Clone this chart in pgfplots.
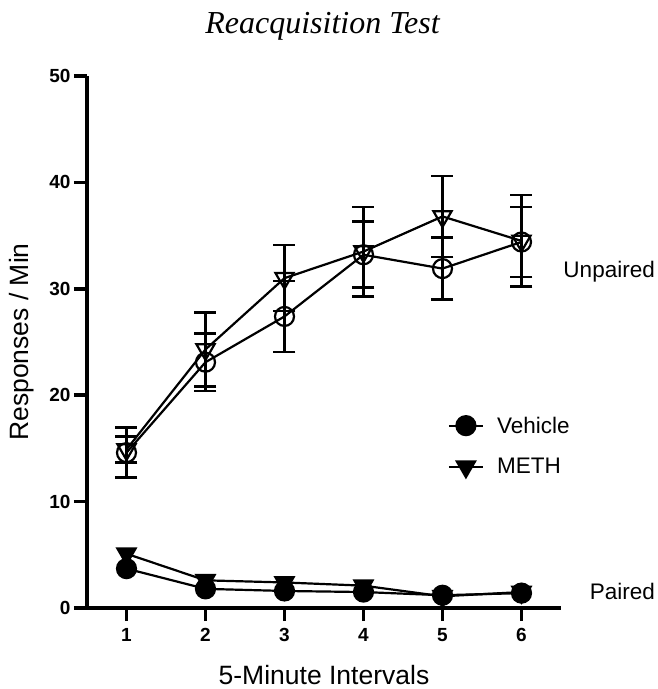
\documentclass[border=0pt]{standalone}
\usepackage{fontspec}
\setmainfont{Liberation Sans}
\newfontfamily\serif{Liberation Serif}
\usepackage{pgfplots}
\usepackage{pgfplotstable}
\pgfplotsset{compat=1.18}

\pgfplotstableread{
x y e
1 14.6 2.35
2 23.1 2.7
3 27.4 3.35
4 33.2 3.1
5 31.9 2.9
6 34.4 3.3
}\unpVeh
\pgfplotstableread{
x y e
1 14.9 1.2
2 24.3 3.5
3 31.0 3.1
4 33.5 4.2
5 36.8 3.8
6 34.5 4.3
}\unpMeth
\pgfplotstableread{
x y
1 3.7
2 1.8
3 1.6
4 1.5
5 1.2
6 1.4
}\parVeh
\pgfplotstableread{
x y
1 5.1
2 2.6
3 2.4
4 2.1
5 1.1
6 1.5
}\parMeth

\begin{document}
\begin{tikzpicture}
\begin{axis}[name=ax, scale only axis, width=474pt, height=532pt,
  xmin=0.5, xmax=6.5, ymin=0, ymax=50,
  axis lines=left, axis line style={line width=3.8pt, -},
  xtick={1,...,6}, ytick={0,10,...,50},
  tick style={line width=3.5pt, black}, tick align=outside, major tick length=13pt,
  tick label style={font=\fontsize{19}{21}\selectfont\bfseries},
  xticklabel style={yshift=-4pt},
  /pgf/number format/assume math mode=true,
  xlabel={5-Minute Intervals}, ylabel={Responses / Min},
  label style={font=\fontsize{26.5}{30}\selectfont},
  xlabel style={at={(axis description cs:0.5,0)}, anchor=center, yshift=-67pt},
  ylabel style={at={(axis description cs:0,0.5)}, anchor=center, yshift=65pt},
  clip=false,
  legend style={at={(axis cs:5.065,18.05)}, anchor=north west, draw=none, fill=none,
    font=\fontsize{22.5}{24}\selectfont, row sep=23pt, inner sep=0pt,
    nodes={inner xsep=13pt, inner ysep=0pt}},
  legend cell align=left,
  legend image code/.code={\draw[mark repeat=2,mark phase=2] plot coordinates {(0pt,0pt)(17pt,0pt)(34pt,0pt)};},
  every axis plot/.append style={black, line width=2.2pt, mark options={solid, line width=2.2pt}},
  error bars/error bar style={line width=2.6pt, black},
  error bars/error mark options={rotate=90, mark size=11pt, line width=2.6pt, black},
]
\addplot[mark=*, mark size=9.5pt] table[x=x,y=y] {\parVeh};
\addlegendentry{Vehicle}
\addplot[mark=triangle*, mark size=10.5pt, mark options={rotate=180}] table[x=x,y=y] {\parMeth};
\addlegendentry{METH}
\addplot[mark=o, mark size=9.5pt, forget plot, error bars/.cd, y dir=both, y explicit]
  table[x=x,y=y,y error=e] {\unpVeh};
\addplot[mark=triangle, mark size=10.5pt, mark options={rotate=180}, forget plot, error bars/.cd, y dir=both, y explicit]
  table[x=x,y=y,y error=e] {\unpMeth};
\node[anchor=east, font=\fontsize{22.5}{24}\selectfont, inner sep=0pt] at (axis cs:7.69,31.6) {Unpaired};
\node[anchor=east, font=\fontsize{22.5}{24}\selectfont, inner sep=0pt] at (axis cs:7.69,1.55) {Paired};
\end{axis}
\node[font=\serif\itshape\fontsize{32}{35}\selectfont] at ([shift={(235.5pt,582pt)}]ax.south west) {Reacquisition Test};
\pgfresetboundingbox
\path[use as bounding box] ([shift={(-87pt,-81pt)}]ax.south west) rectangle ([shift={(570pt,608pt)}]ax.south west);
\end{tikzpicture}
\end{document}
